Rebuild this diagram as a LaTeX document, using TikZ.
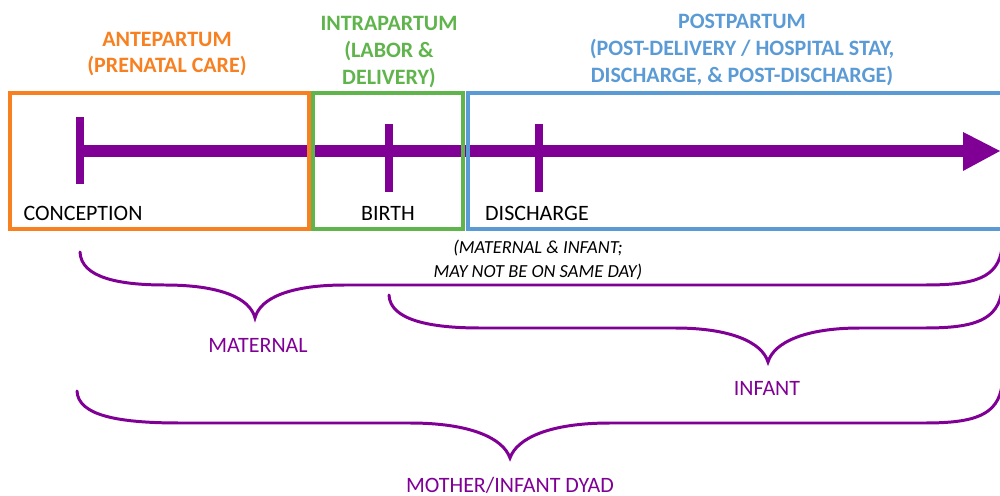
\documentclass[tikz,border=0pt]{standalone}
\usepackage{fontspec}
\setmainfont{Carlito}
\definecolor{aorange}{RGB}{247,128,32}
\definecolor{agreen}{RGB}{96,180,76}
\definecolor{ablue}{RGB}{91,155,213}
\definecolor{apurple}{RGB}{128,0,150}
\tikzset{
  phasebox/.style={draw, line width=2.3pt},
  ticklab/.style={font=\fontsize{12.5}{15}\selectfont, text=black, inner sep=0pt},
  phasetitle/.style={font=\fontsize{12.5}{15.3}\selectfont\bfseries, align=center, inner sep=0pt},
  bracelab/.style={font=\fontsize{12.5}{15}\selectfont, text=apurple, inner sep=0pt},
  notelab/.style={font=\fontsize{10.5}{13.6}\selectfont\itshape, align=center, inner sep=0pt},
  timeline/.style={draw=apurple, line width=6.8pt},
  tickmark/.style={draw=apurple, line width=4.5pt},
  bracepath/.style={draw=apurple, line width=1.7pt, line cap=round}
}
\begin{document}
\begin{tikzpicture}[x=0.02cm, y=-0.02cm]
\useasboundingbox (0,0) rectangle (1000,496);
\clip (0,0) rectangle (1000,496);
% timeline
\coordinate (tstart) at (80,151);
\coordinate (tend) at (964,151);
\draw[timeline] (tstart) -- (tend);
\fill[apurple] (963,132) -- (1000,151) -- (963,171) -- cycle;
% ticks
\coordinate (concT) at (80,117); \coordinate (concB) at (80,184);
\coordinate (birthT) at (389,124); \coordinate (birthB) at (389,192);
\coordinate (discT) at (539,124); \coordinate (discB) at (539,192);
\draw[tickmark] (concT) -- (concB);
\draw[tickmark] (birthT) -- (birthB);
\draw[tickmark] (discT) -- (discB);
% phase boxes
\draw[phasebox, aorange] (10,93) rectangle (309,229);
\draw[phasebox, agreen] (313,93) rectangle (463,229);
\draw[phasebox, ablue] (468,93) rectangle (1010,229);
% tick labels
\node[ticklab] (conception) at (83,213) {CONCEPTION};
\node[ticklab] (birth) at (388,213) {BIRTH};
\node[ticklab] (discharge) at (537,213) {DISCHARGE};
% phase titles
\node[phasetitle, text=aorange] (ante) at (167,54) {ANTEPARTUM\\(PRENATAL CARE)};
\node[phasetitle, text=agreen] (intra) at (389,52) {INTRAPARTUM\\(LABOR \&\\DELIVERY)};
\node[phasetitle, text=ablue] (post) at (742,50) {POSTPARTUM\\(POST-DELIVERY / HOSPITAL STAY,\\DISCHARGE, \& POST-DISCHARGE)};
% note
\node[notelab] (note) at (538,260) {(MATERNAL \& INFANT;\\MAY NOT BE ON SAME DAY)};
% maternal brace
\draw[bracepath] (80,252) .. controls (81,278) and (120,285) .. (165,285)
  .. controls (220,285) and (250,298) .. (255,318)
  .. controls (260,298) and (290,285) .. (345,285)
  -- (925,285) .. controls (975,285) and (998,278) .. (1002,248);
\node[bracelab] (maternal) at (258,345) {MATERNAL};
% infant brace
\draw[bracepath] (389,295) .. controls (390,320) and (430,328) .. (480,328)
  -- (675,328) .. controls (730,328) and (762,342) .. (768,362)
  .. controls (774,342) and (806,328) .. (860,328)
  -- (925,328) .. controls (975,328) and (998,320) .. (1002,290);
\node[bracelab] (infant) at (767,388) {INFANT};
% dyad brace
\draw[bracepath] (77,391) .. controls (78,416) and (120,423) .. (180,423)
  -- (410,423) .. controls (470,423) and (503,438) .. (510,458)
  .. controls (517,438) and (550,423) .. (610,423)
  -- (925,423) .. controls (975,423) and (998,415) .. (1002,385);
\node[bracelab] (dyad) at (510,485) {MOTHER/INFANT DYAD};
\end{tikzpicture}
\end{document}
